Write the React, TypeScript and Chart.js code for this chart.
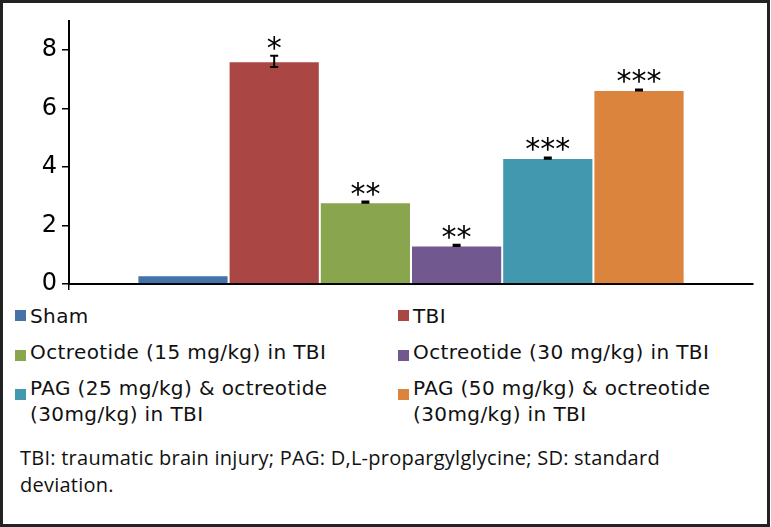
import React, { useEffect, useRef } from "react";
import { Chart, registerables } from "chart.js";

Chart.register(...registerables);

const groupLabels = [
  "Sham",
  "TBI",
  "Octreotide (15 mg/kg) in TBI",
  "Octreotide (30 mg/kg) in TBI",
  "PAG (25 mg/kg) & octreotide (30mg/kg) in TBI",
  "PAG (50 mg/kg) & octreotide (30mg/kg) in TBI",
];
const meanValues = [0.3, 7.62, 2.8, 1.32, 4.31, 6.64];
const sdValues = [0, 0.19, 0.02, 0.02, 0.02, 0.02];
const significance = ["", "*", "**", "**", "***", "***"];
const yTickValues = [0, 2, 4, 6, 8];
const barColors = ["#4572A7", "#AA4643", "#89A54E", "#71588F", "#4198AF", "#DB843D"];
const footnote =
  "TBI: traumatic brain injury; PAG: D,L-propargylglycine; SD: standard deviation.";

// layout (not data)
const legendCols = [15, 398];
const legendRowTops = [303, 339, 375];
const legendSquareOffsets = [7, 11, 14];

const errorBarPlugin = {
  id: "errorBarsAndStars",
  afterDatasetsDraw(chart: any) {
    const ctx = chart.ctx;
    const y = chart.scales.y;
    ctx.save();
    chart.data.datasets.forEach((ds: any, i: number) => {
      const meta = chart.getDatasetMeta(i);
      const bar = meta.data[0];
      if (!bar) return;
      const x = bar.x;
      const m = meanValues[i];
      const sd = sdValues[i];
      const top = y.getPixelForValue(m + sd);
      const bot = y.getPixelForValue(m - sd);
      if (sd > 0) {
        ctx.strokeStyle = "#000";
        ctx.lineWidth = 2;
        ctx.beginPath();
        ctx.moveTo(x, top);
        ctx.lineTo(x, bot);
        ctx.moveTo(x - 4, top);
        ctx.lineTo(x + 4, top);
        ctx.moveTo(x - 4, bot);
        ctx.lineTo(x + 4, bot);
        ctx.stroke();
      }
      const s = significance[i];
      if (s) {
        ctx.fillStyle = "#000";
        ctx.font = "30px 'DejaVu Sans'";
        ctx.textAlign = "center";
        ctx.textBaseline = "alphabetic";
        ctx.fillText(s, x, top + 2);
      }
    });
    ctx.restore();
  },
};

export default function App() {
  const ref = useRef<HTMLCanvasElement | null>(null);

  useEffect(() => {
    if (!ref.current) return;
    const chart = new Chart(ref.current, {
      type: "bar",
      data: {
        labels: [""],
        datasets: groupLabels.map((label, i) => ({
          label,
          data: [meanValues[i]],
          backgroundColor: barColors[i],
          borderColor: "rgba(255,255,255,0.6)",
          borderWidth: 1,
          categoryPercentage: 0.8,
          barPercentage: 1.0,
        })),
      },
      options: {
        animation: false,
        responsive: false,
        maintainAspectRatio: false,
        layout: { padding: { left: 0, right: 18, top: 21, bottom: 10 } },
        plugins: {
          legend: { display: false },
          tooltip: { enabled: false },
        },
        scales: {
          x: {
            ticks: { display: false },
            grid: {
              drawOnChartArea: false,
              tickLength: 6,
              lineWidth: 1.5,
              color: (c: any) => (c.index === 0 ? "#000" : "rgba(0,0,0,0)"),
            },
            border: { display: true, color: "#000", width: 2 },
            afterFit: (s: any) => {
              s.height = 6;
              s.paddingLeft = 0;
              s.paddingRight = 0;
            },
          },
          y: {
            min: 0,
            max: 9,
            afterBuildTicks: (s: any) => {
              s.ticks = yTickValues.map((v) => ({ value: v }));
            },
            ticks: {
              color: "#000",
              padding: 5,
              font: { family: "'DejaVu Sans'", size: 24 },
            },
            grid: {
              drawOnChartArea: false,
              tickLength: 7,
              lineWidth: 1.5,
              color: "#000",
            },
            border: { display: true, color: "#000", width: 2 },
            afterFit: (s: any) => {
              s.width = 69;
              s.paddingTop = 0;
              s.paddingBottom = 0;
            },
          },
        },
      },
      plugins: [errorBarPlugin],
    });
    return () => chart.destroy();
  }, []);

  return (
    <div>
      <div
        style={{
          position: "fixed",
          left: 0,
          top: 0,
          width: 770,
          height: 527,
          boxSizing: "border-box",
          border: "3px solid #222",
          background: "#fff",
        }}
      />
      <canvas
        ref={ref}
        width={771}
        height={300}
        style={{ position: "fixed", left: 0, top: 0, width: 771, height: 300 }}
      />
      {groupLabels.map((label, i) => {
        const col = i % 2;
        const row = Math.floor(i / 2);
        return (
          <div
            key={label}
            style={{
              position: "fixed",
              left: legendCols[col],
              top: legendRowTops[row],
              width: 370,
            }}
          >
            <span
              style={{
                position: "absolute",
                left: 0,
                top: legendSquareOffsets[row],
                width: 11,
                height: 11,
                background: barColors[i],
              }}
            />
            <div
              style={{
                marginLeft: 15,
                fontFamily: "'DejaVu Sans'",
                fontSize: 20,
                letterSpacing: "0.4px",
                lineHeight: "26px",
                color: "#111",
                width: 350,
              }}
            >
              {label}
            </div>
          </div>
        );
      })}
      <div
        style={{
          position: "fixed",
          left: 20,
          top: 444,
          width: 690,
          fontFamily: "'Open Sans'",
          fontSize: 20,
          letterSpacing: "0.25px",
          lineHeight: "27px",
          color: "#111",
        }}
      >
        {footnote}
      </div>
    </div>
  );
}
